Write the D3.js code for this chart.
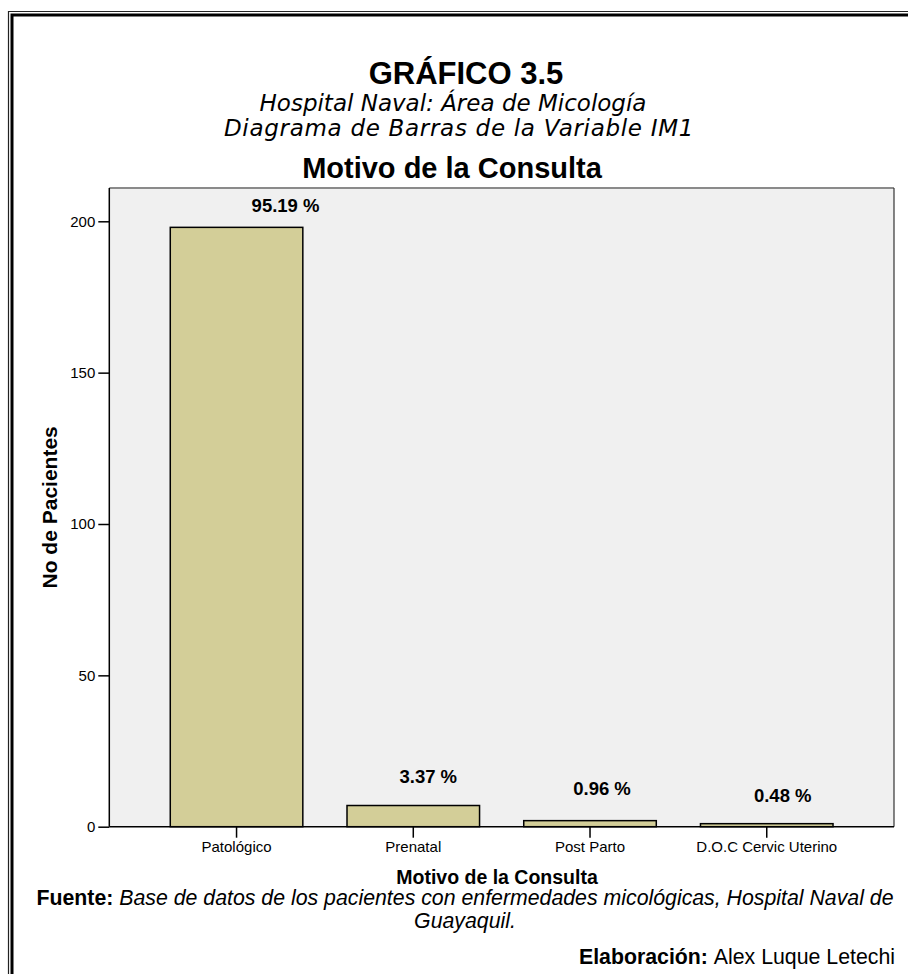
<!DOCTYPE html>
<html><head><meta charset="utf-8">
<script src="https://cdn.jsdelivr.net/npm/d3@7"></script>
<style>
html,body{margin:0;padding:0;background:#fff;}
svg{display:block;}
text{font-family:"Liberation Sans",Arial,sans-serif;fill:#000;}
</style></head>
<body>
<script>
// ---- data ----
const categories = ["Patológico", "Prenatal", "Post Parto", "D.O.C Cervic Uterino"];
const patients = [198, 7, 2, 1];
const percentLabels = ["95.19 %", "3.37 %", "0.96 %", "0.48 %"];
const yTicks = [0, 50, 100, 150, 200];
const titleMain = "GRÁFICO 3.5";
const subtitles = ["Hospital Naval: Área de Micología", "Diagrama de Barras de la Variable IM1"];
const chartTitle = "Motivo de la Consulta";
const xTitle = "Motivo de la Consulta";
const yTitle = "No de Pacientes";

// ---- layout (label nudges, px) ----
const labelNudge = [[49, 15], [15, 23], [12, 26], [16, 22]];

const W = 908, H = 974;
const svg = d3.select("body").append("svg").attr("width", W).attr("height", H);

// page border (double line)
svg.append("path").attr("d", `M8.5,${H+5} V11.5 H${W+5}`).attr("fill","none").attr("stroke","#222").attr("stroke-width",1.2);
svg.append("path").attr("d", `M12,${H+5} V15 H${W+5}`).attr("fill","none").attr("stroke","#000").attr("stroke-width",3);

// titles
svg.append("text").attr("x", 466).attr("y", 84).attr("text-anchor","middle")
  .style("font-size","31px").style("font-weight","bold").text(titleMain);
const subY = [111, 136];
const subX = [453, 459];
const subSpacing = [0, 0.7];
subtitles.forEach((s,i)=>{
  svg.append("text").attr("x", subX[i]).attr("y", subY[i]).attr("text-anchor","middle")
    .style("font-family","'DejaVu Sans',Verdana,sans-serif").style("font-style","italic").style("font-size","23px")
    .style("letter-spacing", subSpacing[i] + "px").text(s);
});
svg.append("text").attr("x", 452).attr("y", 178).attr("text-anchor","middle")
  .style("font-size","29px").style("font-weight","bold").text(chartTitle);

// plot area
const pl = 109.3, pr = 894, pt = 188, pb = 826.7;
const x = d3.scaleBand().domain(categories).range([pl, pr]).paddingInner(0.25).paddingOuter(0.345);
const y = d3.scaleLinear().domain([0, 211]).range([pb, pt]);

svg.append("rect").attr("x", pl).attr("y", pt).attr("width", pr-pl).attr("height", pb-pt).attr("fill","#f0f0f0");
svg.append("line").attr("x1", pl).attr("x2", pr).attr("y1", pt).attr("y2", pt).attr("stroke","#8a8a8a").attr("stroke-width",2);
svg.append("line").attr("x1", pr).attr("x2", pr).attr("y1", pt).attr("y2", pb).attr("stroke","#333").attr("stroke-width",1.2);

// bars
svg.selectAll("rect.bar").data(patients).join("rect").attr("class","bar")
  .attr("x", (d,i)=>x(categories[i])).attr("width", x.bandwidth())
  .attr("y", d=>y(d)).attr("height", d=>pb - y(d))
  .attr("fill","#d3ce98").attr("stroke","#000").attr("stroke-width",1.5);

// axes
const yAxis = d3.axisLeft(y).tickValues(yTicks).tickSize(11).tickPadding(3);
const gy = svg.append("g").attr("transform", `translate(${pl},0)`).call(yAxis);
const xAxis = d3.axisBottom(x).tickSize(11).tickPadding(4);
const gx = svg.append("g").attr("transform", `translate(0,${pb})`).call(xAxis);
[gx, gy].forEach(g=>{
  g.select(".domain").attr("stroke","#000").attr("stroke-width",1.5);
  g.selectAll(".tick line").attr("stroke","#000").attr("stroke-width",1.5);
  g.selectAll(".tick text").style("font-family","'Liberation Sans',Arial,sans-serif").style("font-size","15px").attr("fill","#000");
});
gx.select(".domain").attr("d", `M${pl},0H${pr}`);
gy.select(".domain").attr("d", `M0,${pb}V${pt}`);

// percent labels
svg.selectAll("text.pct").data(percentLabels).join("text").attr("class","pct")
  .attr("x", (d,i)=>x(categories[i]) + x.bandwidth()/2 + labelNudge[i][0])
  .attr("y", (d,i)=>y(patients[i]) - labelNudge[i][1])
  .attr("text-anchor","middle").style("font-size","18.5px").style("font-weight","bold").text(d=>d);

// axis titles
svg.append("text").attr("x", 497).attr("y", 884).attr("text-anchor","middle")
  .style("font-size","19.5px").style("font-weight","bold").text(xTitle);
svg.append("text").attr("transform", `translate(57,${(pt+pb)/2}) rotate(-90)`).attr("text-anchor","middle")
  .style("font-size","21px").style("font-weight","bold").text(yTitle);

// source notes
const f = svg.append("text").attr("x", 465).attr("y", 905).attr("text-anchor","middle").style("font-size","21.3px");
f.append("tspan").style("font-weight","bold").text("Fuente: ");
f.append("tspan").style("font-style","italic").text("Base de datos de los pacientes con enfermedades micológicas, Hospital Naval de");
svg.append("text").attr("x", 465).attr("y", 928).attr("text-anchor","middle").style("font-size","21.3px").style("font-style","italic").text("Guayaquil.");
const e = svg.append("text").attr("x", 895).attr("y", 964).attr("text-anchor","end").style("font-size","21.3px");
e.append("tspan").style("font-weight","bold").text("Elaboración: ");
e.append("tspan").text("Alex Luque Letechi");
</script>
</body></html>
